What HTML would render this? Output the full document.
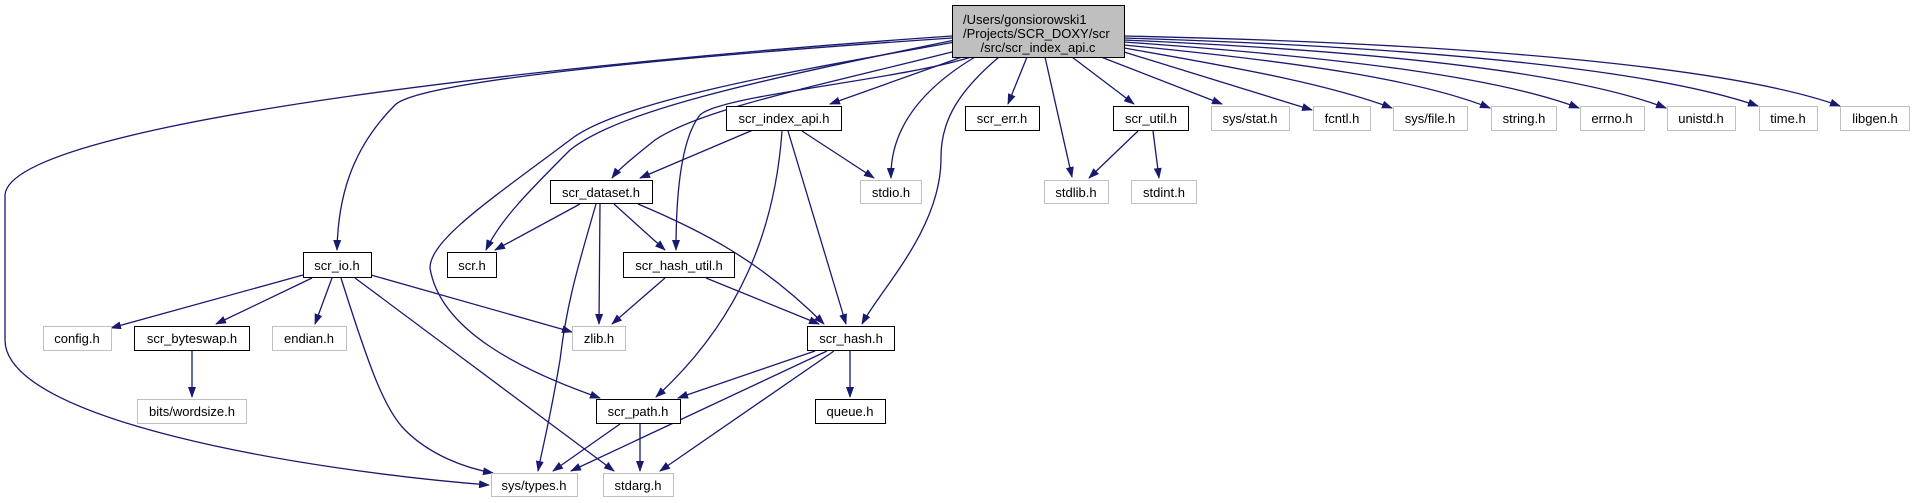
<!DOCTYPE html>
<html><head><meta charset="utf-8"><style>
html,body{margin:0;padding:0;background:#fff;}
svg{display:block;}
text{font-family:"Liberation Sans",Arial,sans-serif;font-size:13px;fill:#000;}
</style></head><body>
<svg width="1914" height="503" viewBox="0 0 1914 503" xmlns="http://www.w3.org/2000/svg">
<defs>
<marker id="a" markerWidth="11" markerHeight="8" refX="10" refY="4" orient="auto" markerUnits="userSpaceOnUse">
<path d="M0,0 L11,4 L0,8 Z" fill="#191970"/></marker>
</defs>
<g fill="none" stroke="#191970" stroke-width="1.3" marker-end="url(#a)">
<path d="M952,36 C600,60 10,120 5,195 L5,340 C5,420 300,470 489,485"/>
<path d="M952,38 C700,55 420,80 395,105 C350,150 338,200 337,250"/>
<path d="M955,42 C800,70 620,100 570,140 C490,200 430,240 430,268 C440,330 520,370 600,398"/>
<path d="M955,40 C760,80 620,110 570,150 C530,190 500,220 486,250"/>
<path d="M960,50 C800,90 700,110 655,140 C630,160 618,170 612,178"/>
<path d="M971,57 C900,80 720,95 700,115 C680,140 676,200 676,250"/>
<path d="M962,57 L830,104"/>
<path d="M975,57 C920,90 890,130 891,178"/>
<path d="M999,57 C960,90 940,120 941,160 C940,230 880,290 862,324"/>
<path d="M1027,57 L1008,104"/>
<path d="M1045,57 L1072,177"/>
<path d="M1072,57 L1134,104"/>
<path d="M1101,57 L1222,104"/>
<path d="M1124,52 L1312,110"/>
<path d="M1124,48 C1250,70 1330,85 1392,108"/>
<path d="M1124,45 C1300,62 1420,80 1490,108"/>
<path d="M1124,42 C1350,58 1500,78 1579,108"/>
<path d="M1124,40 C1400,52 1580,75 1666,108"/>
<path d="M1124,38 C1450,48 1660,72 1758,106"/>
<path d="M1124,36 C1500,44 1740,70 1840,106"/>
<path d="M1138,131 L1089,178"/>
<path d="M1153,131 L1159,178"/>
<path d="M753,130 L640,178"/>
<path d="M802,131 L874,178"/>
<path d="M788,131 L846,324"/>
<path d="M782,131 C775,230 740,320 656,397"/>
<path d="M580,204 L495,250"/>
<path d="M614,204 L665,250"/>
<path d="M600,204 L599,324"/>
<path d="M596,204 C580,260 567,300 560,360 C550,420 542,450 538,471"/>
<path d="M638,204 C700,230 760,260 824,324"/>
<path d="M665,278 L612,324"/>
<path d="M706,278 L819,324"/>
<path d="M303,275 L111,328"/>
<path d="M312,278 L216,324"/>
<path d="M332,278 L315,324"/>
<path d="M371,275 L572,332"/>
<path d="M341,278 C370,370 385,410 405,430 C430,455 465,468 493,473"/>
<path d="M355,278 L614,471"/>
<path d="M192,350 L192,397"/>
<path d="M815,351 L678,398"/>
<path d="M850,351 L850,397"/>
<path d="M827,351 L571,471"/>
<path d="M834,351 L660,471"/>
<path d="M620,424 L553,471"/>
<path d="M640,424 L640,471"/>
</g>
<rect x="952.5" y="5.5" width="172" height="52" fill="#bfbfbf" stroke="#000"/>
<text x="963" y="24">/Users/gonsiorowski1</text>
<text x="963" y="38">/Projects/SCR_DOXY/scr</text>
<text x="1038" y="52" text-anchor="middle">/src/scr_index_api.c</text>
<g fill="#fff" stroke="#000">
<rect x="726.5" y="106.5" width="115" height="24"/>
<rect x="965.5" y="106.5" width="74" height="24"/>
<rect x="1113.5" y="106.5" width="75" height="24"/>
<rect x="550.5" y="180.5" width="102" height="23"/>
<rect x="303.5" y="252.5" width="68" height="25"/>
<rect x="447.5" y="252.5" width="49" height="25"/>
<rect x="623.5" y="252.5" width="111" height="25"/>
<rect x="134.5" y="326.5" width="115" height="24"/>
<rect x="807.5" y="326.5" width="87" height="24"/>
<rect x="596.5" y="399.5" width="84" height="24"/>
<rect x="815.5" y="399.5" width="70" height="24"/>
</g>
<g fill="#fff" stroke="#bfbfbf">
<rect x="1211.5" y="106.5" width="78" height="24"/>
<rect x="1313.5" y="106.5" width="57" height="24"/>
<rect x="1393.5" y="106.5" width="74" height="24"/>
<rect x="1491.5" y="106.5" width="65" height="24"/>
<rect x="1580.5" y="106.5" width="64" height="24"/>
<rect x="1667.5" y="106.5" width="68" height="24"/>
<rect x="1759.5" y="106.5" width="58" height="24"/>
<rect x="1840.5" y="106.5" width="69" height="24"/>
<rect x="860.5" y="180.5" width="61" height="23"/>
<rect x="1044.5" y="180.5" width="64" height="23"/>
<rect x="1131.5" y="180.5" width="65" height="23"/>
<rect x="43.5" y="326.5" width="68" height="24"/>
<rect x="272.5" y="326.5" width="74" height="24"/>
<rect x="572.5" y="326.5" width="53" height="24"/>
<rect x="137.5" y="399.5" width="109" height="24"/>
<rect x="491.5" y="473.5" width="86" height="23"/>
<rect x="603.5" y="473.5" width="70" height="23"/>
</g>
<g text-anchor="middle">
<text x="784" y="123">scr_index_api.h</text>
<text x="1002" y="123">scr_err.h</text>
<text x="1151" y="123">scr_util.h</text>
<text x="1250" y="123">sys/stat.h</text>
<text x="1342" y="123">fcntl.h</text>
<text x="1430" y="123">sys/file.h</text>
<text x="1524" y="123">string.h</text>
<text x="1612" y="123">errno.h</text>
<text x="1701" y="123">unistd.h</text>
<text x="1788" y="123">time.h</text>
<text x="1875" y="123">libgen.h</text>
<text x="601" y="197">scr_dataset.h</text>
<text x="891" y="197">stdio.h</text>
<text x="1076" y="197">stdlib.h</text>
<text x="1164" y="197">stdint.h</text>
<text x="337" y="270">scr_io.h</text>
<text x="472" y="270">scr.h</text>
<text x="679" y="270">scr_hash_util.h</text>
<text x="77" y="343">config.h</text>
<text x="192" y="343">scr_byteswap.h</text>
<text x="309" y="343">endian.h</text>
<text x="599" y="343">zlib.h</text>
<text x="851" y="343">scr_hash.h</text>
<text x="192" y="416">bits/wordsize.h</text>
<text x="638" y="416">scr_path.h</text>
<text x="850" y="416">queue.h</text>
<text x="534" y="490">sys/types.h</text>
<text x="638" y="490">stdarg.h</text>
</g>
</svg>
</body></html>
